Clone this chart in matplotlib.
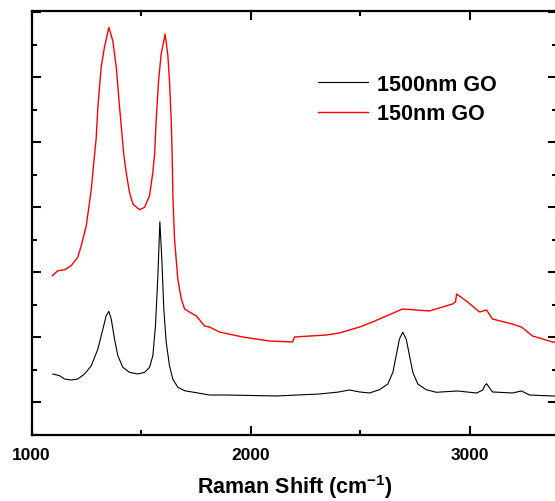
import matplotlib
matplotlib.use("Agg")
import matplotlib.pyplot as plt
from matplotlib.ticker import MultipleLocator, NullFormatter

plt.rcParams['font.family'] = ['Liberation Sans', 'DejaVu Sans']
plt.rcParams['mathtext.fontset'] = 'custom'
plt.rcParams['mathtext.rm'] = 'Liberation Sans'
plt.rcParams['mathtext.bf'] = 'Liberation Sans:bold'

# 1500nm GO (black)
w_1500 = [1097, 1128, 1151, 1181, 1211, 1242, 1273, 1303, 1326, 1341, 1353, 1364, 1379, 1394,
          1417, 1447, 1485, 1516, 1539, 1554, 1566, 1577, 1586, 1595, 1604, 1615, 1630, 1645,
          1668, 1699, 1813, 1890, 2119, 2315, 2400, 2452, 2498, 2543, 2589, 2627, 2650, 2665,
          2680, 2695, 2711, 2726, 2741, 2764, 2802, 2848, 2945, 3032, 3060, 3070, 3078, 3088,
          3105, 3196, 3237, 3274, 3379, 3400]
i_1500 = [938, 912, 861, 846, 861, 938, 1066, 1323, 1630, 1835, 1903, 1784, 1476, 1220,
          1041, 964, 938, 964, 1041, 1220, 1681, 2450, 3281, 2707, 1938, 1426, 1066, 861,
          734, 681, 615, 615, 600, 631, 660, 692, 662, 646, 697, 784, 964, 1220,
          1476, 1580, 1476, 1220, 964, 784, 697, 657, 677, 646, 690, 760, 790, 740,
          662, 646, 677, 615, 600, 595]

# 150nm GO (red)
w_150 = [1095, 1120, 1151, 1181, 1211, 1227, 1250, 1273, 1288, 1295, 1303, 1318, 1333, 1353,
         1371, 1387, 1402, 1421, 1432, 1447, 1463, 1493, 1516, 1539, 1554, 1562, 1569, 1580,
         1592, 1610, 1622, 1630, 1638, 1642, 1646, 1653, 1668, 1684, 1699, 1721, 1753, 1790,
         1813, 1858, 1963, 2087, 2192, 2201, 2347, 2406, 2498, 2557, 2694, 2817, 2922, 2936,
         2941, 2986, 3046, 3078, 3105, 3196, 3237, 3288, 3379, 3400]
i_150 = [2450, 2527, 2542, 2604, 2733, 2911, 3219, 3783, 4322, 4552, 5045, 5660, 5967, 6270,
         6064, 5660, 5045, 4322, 4045, 3737, 3553, 3465, 3502, 3680, 4045, 4322, 4834, 5449,
         5860, 6167, 5860, 5449, 4834, 4322, 3630, 3014, 2399, 2092, 1938, 1892, 1830, 1677,
         1661, 1585, 1508, 1446, 1431, 1508, 1538, 1569, 1661, 1738, 1938, 1908, 2015, 2046,
         2169, 2061, 1892, 1923, 1784, 1707, 1661, 1523, 1431, 1420]

labels = ['1500nm GO', '150nm GO']
colors = ['#000000', '#ff0000']

fig = plt.figure(figsize=(5.55, 5.02), dpi=100)
ax = fig.add_axes([0.0568, 0.1315, 0.947, 0.8436])
ax.plot(w_1500, i_1500, color=colors[0], lw=0.8, label=labels[0])
ax.plot(w_150, i_150, color=colors[1], lw=1.0, label=labels[1])

ax.set_xlim(1000, 3400)
ax.set_ylim(0, 6515)
ax.xaxis.set_major_locator(MultipleLocator(1000))
ax.xaxis.set_minor_locator(MultipleLocator(500))
ax.yaxis.set_major_locator(MultipleLocator(1000, offset=500))
ax.yaxis.set_minor_locator(MultipleLocator(1000))
ax.yaxis.set_major_formatter(NullFormatter())
ax.tick_params(which='both', direction='in', top=True, right=True, width=1.5)
ax.tick_params(which='major', length=6.5)
ax.tick_params(which='minor', length=3.5)
ax.tick_params(axis='x', labelsize=12.5, pad=9)
for lab in ax.get_xticklabels():
    lab.set_fontweight('bold')
for s in ax.spines.values():
    s.set_linewidth(1.6)

ax.set_xlabel('Raman Shift (cm$^{\\mathbf{-1}}$)', fontsize=15.5, fontweight='bold', labelpad=7)

leg = ax.legend(loc='upper left', bbox_to_anchor=(318 / 555, 1 - 75 / 502),
                bbox_transform=fig.transFigure, frameon=False, fontsize=15.5,
                handlelength=2.3, handletextpad=0.42, labelspacing=0.39,
                borderpad=0, borderaxespad=0)
for t in leg.get_texts():
    t.set_fontweight('bold')

fig.savefig('out.png', dpi=100)
